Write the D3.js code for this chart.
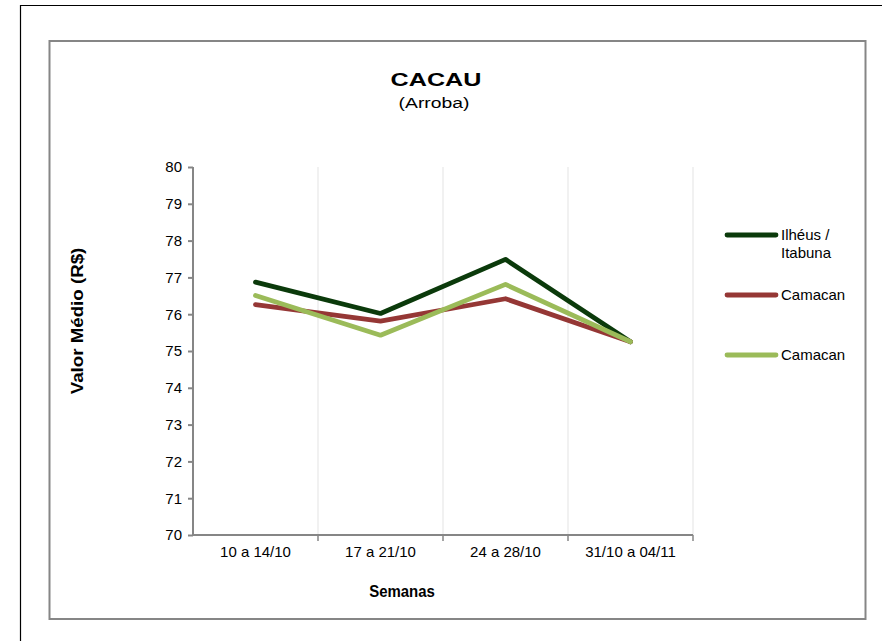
<!doctype html>
<html lang="pt">
<head>
<meta charset="utf-8">
<title>CACAU (Arroba)</title>
<script src="https://cdn.jsdelivr.net/npm/d3@7/dist/d3.min.js"></script>
<style>
  body { margin: 0; background: #fff; }
  text { font-family: "Liberation Sans", Arial, sans-serif; fill: #000; }
</style>
</head>
<body>
<script>
// data
var semanas = ["10 a 14/10", "17 a 21/10", "24 a 28/10", "31/10 a 04/11"];
var ilheusItabuna = [76.87, 76.02, 77.49, 75.25];
var camacanA = [76.26, 75.81, 76.42, 75.25];
var camacanB = [76.51, 75.43, 76.81, 75.25];
var seriesNames = ["Ilhéus / Itabuna", "Camacan", "Camacan"];
var yTicks = [70, 71, 72, 73, 74, 75, 76, 77, 78, 79, 80];

var series = [
  {name: seriesNames[0], values: ilheusItabuna, color: "#0b3a0b"},
  {name: seriesNames[1], values: camacanA, color: "#953735"},
  {name: seriesNames[2], values: camacanB, color: "#9bbb59"}
];

var svg = d3.select("body").append("svg")
    .attr("width", 882).attr("height", 641);

// outer page border
svg.append("path")
    .attr("d", "M20.5,641 V5.5 H882")
    .attr("fill", "none").attr("stroke", "#000").attr("stroke-width", 1.2);

// chart frame
svg.append("rect")
    .attr("x", 49.5).attr("y", 41).attr("width", 816).attr("height", 578)
    .attr("fill", "#fff").attr("stroke", "#868686").attr("stroke-width", 2);

var x = d3.scaleBand().domain(semanas).range([193, 693]);
var y = d3.scaleLinear().domain([70, 80]).range([535, 167]);

// vertical gridlines at band edges
svg.append("g").selectAll("line")
    .data(semanas)
    .enter().append("line")
    .attr("x1", function(d){ return x(d) + x.bandwidth(); })
    .attr("x2", function(d){ return x(d) + x.bandwidth(); })
    .attr("y1", y(80)).attr("y2", y(70))
    .attr("stroke", "#e3e3e3").attr("stroke-width", 1);

// y axis
var yAxis = svg.append("g")
    .attr("transform", "translate(193,0)")
    .call(d3.axisLeft(y).tickValues(yTicks).tickSize(5).tickPadding(6).tickFormat(d3.format("d")));
yAxis.selectAll("path, line").attr("stroke", "#868686").attr("stroke-width", 2);
yAxis.selectAll("text").style("font-size", "15px").attr("fill", "#000");
yAxis.select(".domain").attr("d", "M0," + y(80) + "V" + y(70));

// x axis
var xAxis = svg.append("g")
    .attr("transform", "translate(0,535)")
    .call(d3.axisBottom(x).tickSize(0).tickPadding(11));
xAxis.select(".domain").attr("stroke", "#868686").attr("stroke-width", 2)
    .attr("d", "M193,0H693");
xAxis.selectAll("text").style("font-size", "15px").attr("fill", "#000");
xAxis.selectAll(".tick line").remove();
svg.append("g").selectAll("line")
    .data(semanas)
    .enter().append("line")
    .attr("x1", function(d){ return x(d) + x.bandwidth(); })
    .attr("x2", function(d){ return x(d) + x.bandwidth(); })
    .attr("y1", 535).attr("y2", 541)
    .attr("stroke", "#868686").attr("stroke-width", 1.5);

// lines
var line = d3.line()
    .x(function(d, i){ return x(semanas[i]) + x.bandwidth() / 2; })
    .y(function(d){ return y(d); });

svg.append("g").selectAll("path")
    .data(series)
    .enter().append("path")
    .attr("d", function(d){ return line(d.values); })
    .attr("fill", "none")
    .attr("stroke", function(d){ return d.color; })
    .attr("stroke-width", 4.8)
    .attr("stroke-linejoin", "round")
    .attr("stroke-linecap", "round");

// titles (the source text is drawn wide, hence the horizontal stretch)
svg.append("text").attr("transform", "translate(436,86) scale(1.36,1)")
    .attr("text-anchor", "middle")
    .style("font-size", "18.5px").style("font-weight", "bold")
    .text("CACAU");
svg.append("text").attr("transform", "translate(434,108) scale(1.38,1)")
    .attr("text-anchor", "middle")
    .style("font-size", "14px")
    .text("(Arroba)");

svg.append("text")
    .attr("transform", "translate(83,321) rotate(-90) scale(1.17,1)")
    .attr("text-anchor", "middle")
    .style("font-size", "16px").style("font-weight", "bold")
    .text("Valor Médio (R$)");

svg.append("text").attr("transform", "translate(402,597) scale(0.88,1)")
    .attr("text-anchor", "middle")
    .style("font-size", "17px").style("font-weight", "bold")
    .text("Semanas");

// legend
var legendY = [235, 295, 355];
var legend = svg.append("g").selectAll("g")
    .data(series)
    .enter().append("g")
    .attr("transform", function(d, i){ return "translate(0," + legendY[i] + ")"; });
legend.append("line")
    .attr("x1", 727).attr("x2", 776)
    .attr("stroke", function(d){ return d.color; })
    .attr("stroke-width", 4.8).attr("stroke-linecap", "round");
legend.append("text")
    .attr("x", 781).attr("y", 5)
    .style("font-size", "15px")
    .each(function(d){
        var parts = d.name.indexOf(" / ") > -1 ? [d.name.split(" / ")[0] + " /", d.name.split(" / ")[1]] : [d.name];
        var t = d3.select(this);
        parts.forEach(function(p, k){
            t.append("tspan").attr("x", 781).attr("dy", k === 0 ? 0 : 18).text(p);
        });
    });
</script>
</body>
</html>
